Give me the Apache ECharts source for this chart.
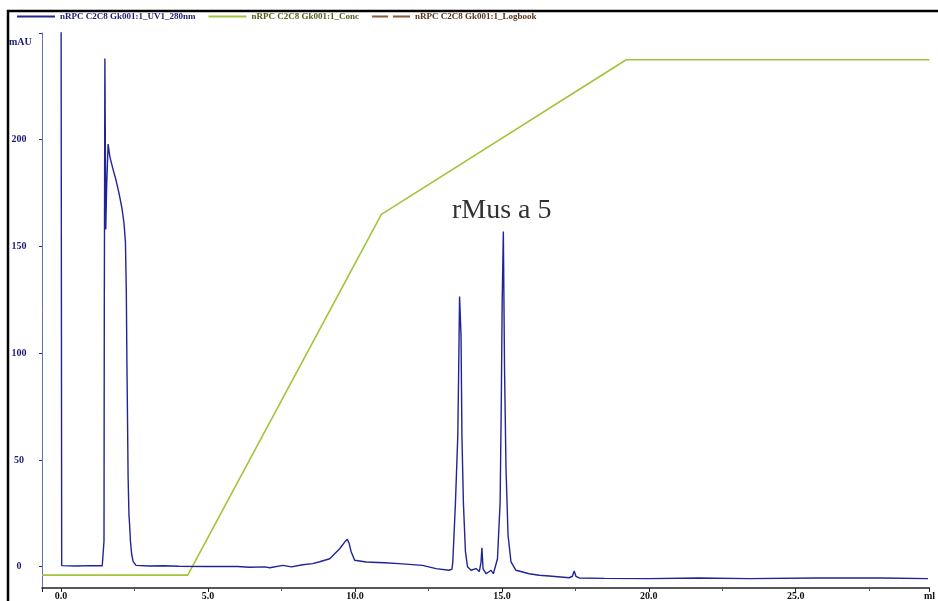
<!DOCTYPE html>
<html>
<head>
<meta charset="utf-8">
<script src="https://cdn.jsdelivr.net/npm/echarts@6/dist/echarts.min.js"></script>
<style>
  html, body { margin: 0; padding: 0; background: #fff; }
  #main { width: 938px; height: 601px; }
</style>
</head>
<body>
<div id="main"></div>
<script>
// UV 280nm trace (ml, mAU)
const uvVolume = [0.00, 0.02, 0.50, 1.00, 1.40, 1.44, 1.46, 1.47, 1.49, 1.505, 1.52, 1.55, 1.60, 1.66, 1.77, 1.87, 1.97, 2.07, 2.14, 2.19,
  2.22, 2.24, 2.26, 2.28, 2.31, 2.33, 2.36, 2.40, 2.45, 2.55, 3.00, 3.50, 4.00, 5.00, 6.00, 6.42, 6.93, 7.10, 7.54, 7.84,
  8.22, 8.56, 8.80, 9.14, 9.48, 9.65, 9.74, 9.80, 9.87, 9.99, 10.38, 11.0, 11.5, 12.3, 12.76, 13.2, 13.30, 13.33, 13.42, 13.50,
  13.53, 13.56, 13.58, 13.61, 13.64, 13.69, 13.76, 13.83, 13.95, 14.12, 14.23, 14.29, 14.32, 14.36, 14.46, 14.55, 14.63, 14.71, 14.85, 14.94,
  14.98, 15.01, 15.05, 15.09, 15.14, 15.21, 15.31, 15.48, 15.93, 16.27, 16.61, 17.29, 17.40, 17.46, 17.52, 17.63, 18.5, 20.0, 21.7, 23.4,
  25.7, 27.9, 29.5]
const uvAbs = [260, 0.5, 0.3, 0.5, 0.4, 1, 12, 120, 238, 200, 158, 178, 198, 192, 186, 181, 175, 168, 161, 152,
  128, 95, 70, 42, 24, 20, 12, 6, 2.5, 0.6, 0.3, 0.4, 0.2, 0.1, 0.1, -0.3, -0.1, -0.5, 0.6, -0.1,
  0.9, 1.4, 2.3, 3.7, 8.4, 11.5, 12.8, 11, 7, 3, 2.2, 1.8, 1.4, 0.6, -0.9, -1.7, -1.2, 2.2, 30, 61.5,
  92.7, 126.5, 127.4, 108, 61.5, 30, 7, 0, -1.7, -0.9, -2.3, 2, 8.8, -1, -3.3, -2.5, -1.7, -3.3, 3.7, 30,
  77, 124, 157, 92.7, 46, 14.7, 2.2, -1.7, -3.3, -4, -4.4, -5.2, -4.5, -2, -4.5, -5.3, -5.5, -5.6, -5.3, -5.6,
  -5.3, -5.3, -5.6]

// gradient (ml, %B)
const concVolume = [-0.65, 4.31, 10.9, 19.23, 29.55]
const concValue = [0, 0, 70, 100, 100]

// logbook has no drawn marks
const logVolume = []

const seriesNames = ['nRPC C2C8 Gk001:1_UV1_280nm', 'nRPC C2C8 Gk001:1_Conc', 'nRPC C2C8 Gk001:1_Logbook']

const uvData = uvVolume.map((v, i) => [v, uvAbs[i]])
const concData = concVolume.map((v, i) => [v, concValue[i]])

const myChart = echarts.init(document.getElementById('main'))
const labelFont = 'Liberation Serif'

const option = {
  animation: false,
  grid: { left: 42, right: 7, top: 33, bottom: 8, containLabel: false },
  legend: {
    left: 17,
    top: 12,
    padding: 0,
    itemWidth: 38,
    itemHeight: 2,
    itemGap: 13,
    textStyle: { fontFamily: labelFont, fontWeight: 'bold', fontSize: 9 },
    data: [
      { name: seriesNames[0], icon: 'rect', textStyle: { color: '#1c1c78' } },
      { name: seriesNames[1], icon: 'rect', textStyle: { color: '#4f6118' } },
      { name: seriesNames[2], icon: 'path://M0,0H17V2H0Z M22,0H40V2H22Z', textStyle: { color: '#5a3418' } }
    ]
  },
  xAxis: {
    type: 'value',
    min: -0.65,
    max: 29.55,
    splitLine: { show: false },
    axisLine: { onZero: false, lineStyle: { color: '#222', width: 1.5 } },
    axisTick: { show: true, length: 4, lineStyle: { color: '#222' } },
    minorTick: { show: true, splitNumber: 2, length: 3, lineStyle: { color: '#555' } },
    axisLabel: {
      margin: 3,
      color: '#111',
      fontFamily: labelFont,
      fontWeight: 'bold',
      fontSize: 10,
      showMinLabel: false,
      formatter: (v) => (v > 29 ? 'ml' : v.toFixed(1))
    }
  },
  yAxis: [
    {
      type: 'value',
      min: -10,
      max: 250,
      splitLine: { show: false },
      axisLine: { show: true, onZero: false, lineStyle: { color: '#6670b0', width: 1 } },
      axisTick: { show: true, length: 3, lineStyle: { color: '#2a2a8a' } },
      axisLabel: {
        margin: 23,
        align: 'center',
        color: '#1c1c78',
        fontFamily: labelFont,
        fontWeight: 'bold',
        fontSize: 10,
        showMinLabel: false,
        formatter: (v) => (v === 250 ? '' : String(v))
      }
    },
    {
      type: 'value',
      min: -2.5,
      max: 105.2,
      show: false
    }
  ],
  graphic: [
    {
      type: 'text',
      left: 9,
      top: 37,
      style: { text: 'mAU', fontFamily: labelFont, fontWeight: 'bold', fontSize: 10, fill: '#1c1c78' }
    },
    {
      type: 'text',
      left: 452,
      top: 197,
      style: { text: 'rMus a 5', fontFamily: labelFont, fontSize: 28, fill: '#333' }
    },
    {
      type: 'polyline',
      shape: { points: [[8, 601], [8, 11], [938, 11]] },
      style: { stroke: '#000', lineWidth: 2.5, fill: null }
    }
  ],
  series: [
    {
      name: seriesNames[0],
      type: 'line',
      data: uvData,
      showSymbol: false,
      lineStyle: { color: '#1f2496', width: 1.4 },
      itemStyle: { color: '#1f2496' },
      z: 3
    },
    {
      name: seriesNames[1],
      type: 'line',
      yAxisIndex: 1,
      data: concData,
      showSymbol: false,
      lineStyle: { color: '#a2c43a', width: 1.6 },
      itemStyle: { color: '#a2c43a' },
      z: 2
    },
    {
      name: seriesNames[2],
      type: 'line',
      data: logVolume,
      showSymbol: false,
      lineStyle: { color: '#8a5a3a', width: 1 },
      itemStyle: { color: '#8a5a3a' }
    }
  ]
}
option && myChart.setOption(option)
</script>
</body>
</html>
